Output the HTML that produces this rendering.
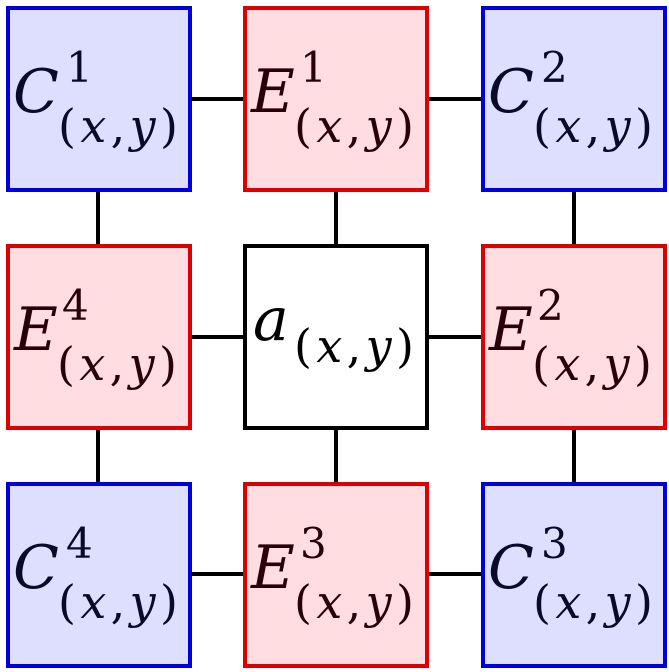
<!DOCTYPE html>
<html><head><meta charset="utf-8"><style>
html,body{margin:0;padding:0;background:#fff;}
svg{display:block;}
</style></head><body>
<svg width="669" height="672" viewBox="0 0 669 672" xmlns="http://www.w3.org/2000/svg" font-family="DejaVu Serif, Liberation Serif, serif">
<g stroke="#000" stroke-width="4">
<line x1="190" y1="99" x2="245" y2="99"/><line x1="428" y1="99" x2="483" y2="99"/>
<line x1="190" y1="337" x2="245" y2="337"/><line x1="428" y1="337" x2="483" y2="337"/>
<line x1="190" y1="574" x2="245" y2="574"/><line x1="428" y1="574" x2="483" y2="574"/>
<line x1="98" y1="190" x2="98" y2="246"/><line x1="336" y1="190" x2="336" y2="246"/><line x1="574" y1="190" x2="574" y2="246"/>
<line x1="98" y1="428" x2="98" y2="484"/><line x1="336" y1="428" x2="336" y2="484"/><line x1="574" y1="428" x2="574" y2="484"/>
</g>
<g stroke-width="4">
<rect x="8" y="8" width="182" height="182" fill="#dedeff" stroke="#0000dd"/>
<rect x="245" y="8" width="182" height="182" fill="#ffdde0" stroke="#dd0000"/>
<rect x="483" y="8" width="182" height="182" fill="#dedeff" stroke="#0000dd"/>
<rect x="8" y="246" width="182" height="182" fill="#ffdde0" stroke="#dd0000"/>
<rect x="245" y="246" width="182" height="182" fill="#fff" stroke="#000"/>
<rect x="483" y="246" width="182" height="182" fill="#ffdde0" stroke="#dd0000"/>
<rect x="8" y="484" width="182" height="182" fill="#dedeff" stroke="#0000dd"/>
<rect x="245" y="484" width="182" height="182" fill="#ffdde0" stroke="#dd0000"/>
<rect x="483" y="484" width="182" height="182" fill="#dedeff" stroke="#0000dd"/>
</g>
<g fill="#0a0a28">
<text x="13" y="112" font-size="60" font-style="italic">C</text><text x="66" y="82" font-size="42">1</text><text x="58" y="142" font-size="46" textLength="120" lengthAdjust="spacing"><tspan>(</tspan><tspan font-style="italic">x</tspan><tspan>,</tspan><tspan font-style="italic">y</tspan><tspan>)</tspan></text>
<text x="488" y="112" font-size="60" font-style="italic">C</text><text x="541" y="82" font-size="42">2</text><text x="533" y="142" font-size="46" textLength="120" lengthAdjust="spacing"><tspan>(</tspan><tspan font-style="italic">x</tspan><tspan>,</tspan><tspan font-style="italic">y</tspan><tspan>)</tspan></text>
<text x="13" y="588" font-size="60" font-style="italic">C</text><text x="66" y="558" font-size="42">4</text><text x="58" y="618" font-size="46" textLength="120" lengthAdjust="spacing"><tspan>(</tspan><tspan font-style="italic">x</tspan><tspan>,</tspan><tspan font-style="italic">y</tspan><tspan>)</tspan></text>
<text x="488" y="588" font-size="60" font-style="italic">C</text><text x="541" y="558" font-size="42">3</text><text x="533" y="618" font-size="46" textLength="120" lengthAdjust="spacing"><tspan>(</tspan><tspan font-style="italic">x</tspan><tspan>,</tspan><tspan font-style="italic">y</tspan><tspan>)</tspan></text>
</g>
<g fill="#2a0008">
<text x="251" y="112" font-size="60" font-style="italic">E</text><text x="300" y="82" font-size="42">1</text><text x="294" y="142" font-size="46" textLength="120" lengthAdjust="spacing"><tspan>(</tspan><tspan font-style="italic">x</tspan><tspan>,</tspan><tspan font-style="italic">y</tspan><tspan>)</tspan></text>
<text x="14" y="350" font-size="60" font-style="italic">E</text><text x="62" y="320" font-size="42">4</text><text x="57" y="380" font-size="46" textLength="120" lengthAdjust="spacing"><tspan>(</tspan><tspan font-style="italic">x</tspan><tspan>,</tspan><tspan font-style="italic">y</tspan><tspan>)</tspan></text>
<text x="489" y="350" font-size="60" font-style="italic">E</text><text x="537" y="320" font-size="42">2</text><text x="532" y="380" font-size="46" textLength="120" lengthAdjust="spacing"><tspan>(</tspan><tspan font-style="italic">x</tspan><tspan>,</tspan><tspan font-style="italic">y</tspan><tspan>)</tspan></text>
<text x="251" y="588" font-size="60" font-style="italic">E</text><text x="300" y="558" font-size="42">3</text><text x="294" y="618" font-size="46" textLength="120" lengthAdjust="spacing"><tspan>(</tspan><tspan font-style="italic">x</tspan><tspan>,</tspan><tspan font-style="italic">y</tspan><tspan>)</tspan></text>
</g>
<g fill="#000">
<text x="253" y="340" font-size="60" font-style="italic">a</text><text x="294" y="362" font-size="46" textLength="120" lengthAdjust="spacing"><tspan>(</tspan><tspan font-style="italic">x</tspan><tspan>,</tspan><tspan font-style="italic">y</tspan><tspan>)</tspan></text>
</g>
</svg>
</body></html>
